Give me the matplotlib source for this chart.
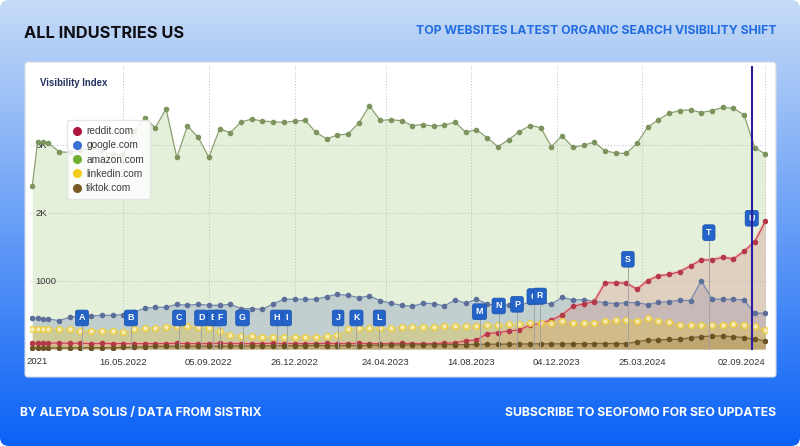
import numpy as np
import pandas as pd
import matplotlib
matplotlib.use("Agg")
import matplotlib.pyplot as plt
from matplotlib.patches import FancyBboxPatch
from matplotlib.lines import Line2D
from matplotlib.colors import LinearSegmentedColormap

# ---------------- data ----------------
week_dates = ["2022-01-17", "2022-01-24", "2022-01-31", "2022-02-07"]
biweek_start, biweek_end = "2022-02-21", "2024-09-02"

amazon = [2400, 3050, 3040, 3030,
          2900, 2890, 2920, 2950, 2920, 2860, 2860,
          3200, 3390, 3255, 3530, 2815, 3280, 3110, 2820, 3235, 3180,
          3335, 3380, 3350, 3340, 3330, 3350, 3360, 3185, 3090, 3145,
          3160, 3320, 3575, 3360, 3370, 3355, 3285, 3300, 3275, 3290,
          3335, 3185, 3225, 3105, 2975, 3075, 3195, 3285, 3255, 2975,
          3135, 2965, 2995, 3040, 2915, 2880, 2875, 3025, 3260, 3370,
          3465, 3505, 3515, 3475, 3505, 3550, 3540, 3440, 2960, 2865]
google = [450, 456, 448, 441,
          417, 466, 485, 485, 495, 495, 505,
          540, 598, 613, 613, 657, 642, 657, 642, 642, 657,
          593, 593, 583, 662, 731, 731, 731, 731, 770, 804,
          789, 755, 779, 711, 672, 642, 627, 672, 667, 632,
          721, 672, 731, 662, 632, 647, 632, 696, 696, 657,
          760, 721, 725, 700, 681, 667, 681, 681, 652, 684,
          696, 716, 712, 1005, 735, 730, 730, 721, 525, 525]
reddit = [85, 88, 90, 86,
          88, 82, 85, 80, 82, 80, 80,
          78, 80, 78, 80, 82, 80, 78, 80, 82, 80,
          80, 78, 80, 82, 80, 80, 78, 80, 82, 80,
          80, 82, 80, 78, 80, 82, 80, 78, 80, 85,
          90, 122, 132, 225, 240, 265, 279, 353, 377, 426,
          500, 627, 662, 696, 970, 975, 966, 880, 1005, 1076,
          1095, 1137, 1223, 1309, 1309, 1348, 1324, 1436, 1578, 1880]
linkedin = [294, 294, 294, 296,
            294, 294, 270, 270, 270, 270, 245,
            294, 304, 314, 328, 343, 338, 328, 304, 265, 206,
            191, 191, 181, 181, 181, 181, 181, 181, 190, 206,
            290, 304, 304, 304, 304, 319, 328, 328, 328, 338,
            338, 338, 338, 353, 353, 368, 370, 377, 387, 387,
            412, 377, 380, 387, 412, 420, 430, 412, 451, 412,
            402, 353, 353, 353, 353, 353, 363, 353, 338, 279]
tiktok = [15, 15, 18, 15,
          18, 15, 18, 20, 18, 20, 22,
          25, 35, 38, 40, 40, 42, 40, 42, 40, 42,
          45, 42, 45, 48, 50, 48, 50, 52, 50, 50,
          52, 50, 55, 55, 58, 60, 60, 62, 60, 62,
          65, 65, 68, 70, 70, 72, 74, 74, 76, 76,
          75, 78, 78, 80, 80, 80, 80, 105, 132, 132,
          140, 142, 165, 181, 191, 191, 181, 167, 142, 122]

series_names = ["reddit.com", "google.com", "amazon.com", "linkedin.com", "tiktok.com"]
legend_colors = ["#b0153e", "#3a6fd4", "#72b034", "#f4cc1c", "#7a5a24"]

tick_dates = ["2022-05-16", "2022-09-05", "2022-12-26", "2023-04-24",
              "2023-08-14", "2023-12-04", "2024-03-25", "2024-09-02"]
tick_labels = ["16.05.2022", "05.09.2022", "26.12.2022", "24.04.2023",
               "14.08.2023", "04.12.2023", "25.03.2024", "02.09.2024"]
first_label = "2021"

y_ticks = [1000, 2000, 3000]
y_labels = ["1000", "2K", "3K"]

flag_labels = list("ABCDEFGHIJKLMNPQRSTU")
flag_dates = ["2022-03-23", "2022-05-26", "2022-07-28", "2022-08-26", "2022-09-11",
              "2022-09-20", "2022-10-19", "2022-12-03", "2022-12-16", "2023-02-21",
              "2023-03-17", "2023-04-16", "2023-08-25", "2023-09-19", "2023-10-13",
              "2023-11-04", "2023-11-12", "2024-03-06", "2024-06-20", "2024-08-15"]
flag_levels = [456] * 12 + [548, 632, 657, 770, 779, 1319, 1710, 1922]
marker_line_date = "2024-08-15"

dates = pd.to_datetime(week_dates).append(pd.date_range(biweek_start, biweek_end, freq="14D"))

# ---------------- figure ----------------
W, H = 800, 446
fig = plt.figure(figsize=(W / 100, H / 100), dpi=100, facecolor="white")

def fx(px):
    return px / W

def fy(py):
    return 1 - py / H

# gradient background with rounded corners
bg = fig.add_axes([0, 0, 1, 1], zorder=-10)
bg.axis("off")
grad = np.linspace(0, 1, 256)[:, None]
cmap = LinearSegmentedColormap.from_list("bg", ["#c6dbf7", "#0a62f6"])
im = bg.imshow(grad, aspect="auto", cmap=cmap, extent=[0, 1, 0, 1], origin="upper")
clip = FancyBboxPatch((0, 0), 1, 1, boxstyle="round,pad=0,rounding_size=0.011",
                      mutation_aspect=W / H, transform=bg.transAxes,
                      facecolor="none", edgecolor="none")
bg.add_patch(clip)
im.set_clip_path(clip)
bg.set_xlim(0, 1)
bg.set_ylim(0, 1)

# white card
card = FancyBboxPatch((fx(25), fy(377)), fx(751), 315 / H,
                      boxstyle="round,pad=0,rounding_size=0.004",
                      mutation_aspect=W / H, transform=fig.transFigure,
                      facecolor="white", edgecolor="#d2dbe7", lw=0.8, zorder=1)
fig.add_artist(card)

# main axes
ax = fig.add_axes([fx(30), fy(350), (767 - 30) / W, (350 - 66) / H], zorder=2)
ax.set_facecolor("none")
for s in ax.spines.values():
    s.set_visible(False)
ax.set_xlim(pd.Timestamp("2022-01-14"), pd.Timestamp("2024-09-04"))
ax.set_ylim(-15, 4160)

# fills
fill_specs = [(amazon, "#a8cf86", 0.30), (google, "#7286b8", 0.30),
              (reddit, "#d9807f", 0.28), (linkedin, "#e6c22c", 0.33),
              (tiktok, "#8a6a2a", 0.25)]
for vals, col, a in fill_specs:
    ax.fill_between(dates, 0, vals, color=col, alpha=a, lw=0, zorder=1)

# grid
ax.set_yticks(y_ticks)
ax.set_yticklabels(y_labels)
ax.set_xticks(pd.to_datetime(tick_dates))
ax.set_xticklabels(tick_labels)
ax.grid(True, linestyle=(0, (1, 2)), color="#b9bec4", lw=0.7, zorder=2)
ax.set_axisbelow(False)
ax.tick_params(axis="x", length=0, pad=5.5, labelsize=6.8, labelcolor="#333333")
ax.tick_params(axis="y", length=0, pad=-4, labelsize=6.8, labelcolor="#333333")
for lab in ax.get_yticklabels():
    lab.set_ha("left")
    lab.set_fontfamily("Liberation Sans")
for lab in ax.get_xticklabels():
    lab.set_fontfamily("Liberation Sans")
ax.get_xticklabels()[-1].set_ha("right")

# lines
ax.plot(dates, amazon, color="#8ba072", lw=0.9, marker="o", ms=3.0,
        mfc="#7c945d", mec="#7c945d", zorder=4)
ax.plot(dates, google, color="#7389b3", lw=0.9, marker="o", ms=3.0,
        mfc="#5d6f99", mec="#5d6f99", zorder=4)
ax.plot(dates, reddit, color="#f2a9aa", lw=2.6, alpha=0.55, zorder=4)
ax.plot(dates, reddit, color="#cc4655", lw=0.9, marker="o", ms=3.0,
        mfc="#b53848", mec="#b53848", zorder=4)
ax.plot(dates, linkedin, color="#efd24a", lw=0.6, alpha=0.8, marker="o", ms=4.2,
        mfc="#fbf3c8", mec="#efcb28", mew=1.1, zorder=4)
ax.plot(dates, tiktok, color="#7c6434", lw=0.9, marker="o", ms=3.0,
        mfc="#6b5324", mec="#6b5324", zorder=4)

# event flags
for lab, d, lvl in zip(flag_labels, pd.to_datetime(flag_dates), flag_levels):
    ax.plot([d, d], [0, lvl], color="#a4a4a4", lw=0.7, zorder=5)
    ax.text(d, lvl, lab, ha="center", va="center", color="white", fontsize=6.4,
            fontweight="bold", family="Liberation Sans", zorder=6,
            bbox=dict(boxstyle="round,pad=0.38,rounding_size=0.25",
                      fc="#2463c8", ec="#1b52ad", lw=0.5))

ax.axvline(pd.Timestamp(marker_line_date), color="#2b1f9f", lw=1.5, zorder=7)

# legend
handles = [Line2D([], [], ls="none", marker="o", ms=5.5, mfc=c, mec=c)
           for c in legend_colors]
leg = ax.legend(handles, series_names, loc="upper left",
                bbox_to_anchor=((67 - 30) / 737, (350 - 120) / 284),
                frameon=True, fancybox=True, framealpha=0.85, facecolor="white",
                edgecolor="#e2e2e2", handlelength=0.7,
                handletextpad=0.6, borderpad=0.6, labelspacing=0.42,
                prop={"family": "Liberation Sans", "size": 7.3}, borderaxespad=0)
for t in leg.get_texts():
    t.set_color("#3c3c3c")
leg.set_zorder(9)

# chart texts
fig.text(fx(40), fy(83), "Visibility Index", ha="left", va="center",
         fontsize=6.9, fontweight="bold", color="#25325e", family="Liberation Sans")
fig.text(fx(48), fy(362), first_label, ha="right", va="center",
         fontsize=6.8, color="#333333", family="Liberation Sans")

# header / footer
fig.canvas.draw()
renderer = fig.canvas.get_renderer()

def fit_text(x, y, s, target_w, **kw):
    t = fig.text(x, y, s, **kw)
    w = t.get_window_extent(renderer).width
    t.set_fontsize(t.get_fontsize() * target_w / w)
    return t

hdr = dict(va="center", fontweight="bold",
           family=["Liberation Sans Narrow", "Inter"], fontsize=12)
fit_text(fx(24), fy(33), "ALL INDUSTRIES US", 160, ha="left", color="#0d0d12", **hdr)
fit_text(fx(776), fy(31), "TOP WEBSITES LATEST ORGANIC SEARCH VISIBILITY SHIFT", 364,
         ha="right", color="#226de0", **hdr)
fit_text(fx(20), fy(413), "BY ALEYDA SOLIS / DATA FROM SISTRIX", 243,
         ha="left", color="white", **hdr)
fit_text(fx(776), fy(413), "SUBSCRIBE TO SEOFOMO FOR SEO UPDATES", 273,
         ha="right", color="white", **hdr)

fig.savefig("out.png", dpi=100, facecolor=fig.get_facecolor())
